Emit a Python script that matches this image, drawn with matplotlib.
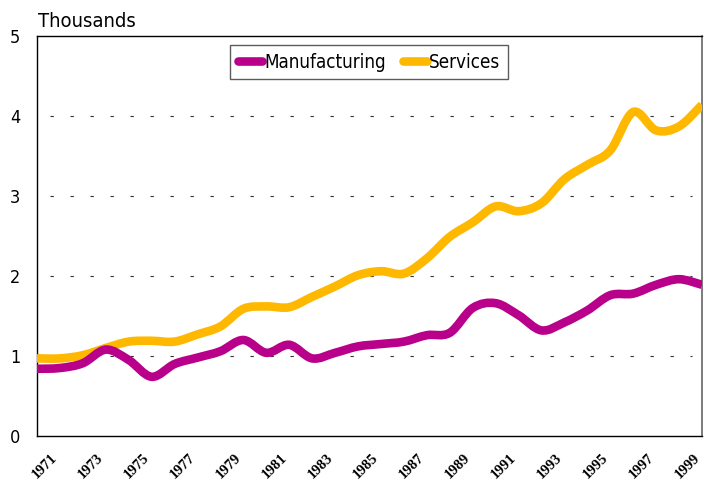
import numpy as np
import matplotlib
matplotlib.use("Agg")
import matplotlib.pyplot as plt
from matplotlib import font_manager
from matplotlib.path import Path
from matplotlib.patches import PathPatch
from matplotlib.lines import Line2D

years = list(range(1970, 2000))
manufacturing = [0.84, 0.85, 0.91, 1.08, 0.95, 0.74, 0.90, 0.98, 1.06, 1.20,
                 1.04, 1.14, 0.97, 1.04, 1.12, 1.15, 1.18, 1.26, 1.29, 1.60,
                 1.66, 1.51, 1.32, 1.42, 1.57, 1.76, 1.78, 1.89, 1.96, 1.89]
services = [0.97, 0.97, 1.01, 1.10, 1.18, 1.19, 1.18, 1.27, 1.37, 1.59,
            1.62, 1.61, 1.74, 1.87, 2.01, 2.06, 2.03, 2.22, 2.49, 2.67,
            2.87, 2.81, 2.91, 3.21, 3.39, 3.57, 4.05, 3.82, 3.87, 4.14]
tick_years = list(range(1971, 2000, 2))

c_man = "#b8008a"
c_ser = "#ffb800"

# narrow sans like Arial Narrow, if there is one
names = {f.name for f in font_manager.fontManager.ttflist}
cond = [f for f in font_manager.fontManager.ttflist
        if f.name == "DejaVu Sans" and "ondensed" in f.fname]
if "Liberation Sans Narrow" in names:
    nfont = {"family": "Liberation Sans Narrow"}
elif cond:
    nfont = {"family": "DejaVu Sans", "stretch": "condensed"}
else:
    nfont = {"family": "Liberation Sans"}


def smooth_path(xs, ys):
    # Excel style smoothed line: Catmull-Rom segments as cubic Beziers
    p = np.column_stack([xs, ys]).astype(float)
    pp = np.vstack([p[0], p, p[-1]])
    verts = [p[0]]
    codes = [Path.MOVETO]
    for i in range(1, len(pp) - 2):
        c1 = pp[i] + (pp[i + 1] - pp[i - 1]) / 6
        c2 = pp[i + 1] - (pp[i + 2] - pp[i]) / 6
        verts += [c1, c2, pp[i + 1]]
        codes += [Path.CURVE4] * 3
    return Path(verts, codes)


fig = plt.figure(figsize=(7.04, 4.84), dpi=100)
ax = fig.add_axes([37 / 704, 1 - 436 / 484, 665 / 704, 400 / 484])

lw = 6.2
# services underneath, manufacturing on top
for vals, col in [(services, c_ser), (manufacturing, c_man)]:
    patch = PathPatch(smooth_path(years, vals), facecolor="none", edgecolor=col,
                      lw=lw, capstyle="butt", joinstyle="round", zorder=3)
    ax.add_patch(patch)

ax.set_xlim(1970, 1999)
ax.set_ylim(0, 5)
for yv in [1, 2, 3, 4]:
    ax.axhline(yv, xmin=0.02, xmax=0.985, color="#333333", lw=0.8,
               ls=(0, (3, 15)), zorder=1)

ax.set_yticks([0, 1, 2, 3, 4, 5])
ax.set_yticklabels(["0", "1", "2", "3", "4", "5"], fontsize=13, **nfont)
ax.tick_params(axis="y", length=0, pad=12)
ax.set_xticks(tick_years)
ax.set_xticklabels([str(y) for y in tick_years], rotation=45, ha="right", va="top",
                   family=["Liberation Serif", "DejaVu Serif"],
                   fontweight="bold", fontsize=10.5)
ax.tick_params(axis="x", length=0, pad=11)

for s in ["left", "top", "bottom"]:
    ax.spines[s].set_color("black")
    ax.spines[s].set_linewidth(1)
ax.spines["right"].set_color("#666666")
ax.spines["right"].set_linewidth(1.2)

fig.text(38 / 704, 1 - 27 / 484, "Thousands", fontsize=14.5, **nfont)

handles = [Line2D([], [], color=c_man, lw=lw, solid_capstyle="round"),
           Line2D([], [], color=c_ser, lw=lw, solid_capstyle="round")]
leg = ax.legend(handles, ["Manufacturing", "Services"], ncol=2, loc="upper center",
                bbox_to_anchor=(332 / 665, 1 - 9 / 400), frameon=True, fancybox=False,
                prop=dict(size=13.5, **nfont), handlelength=1.3,
                handletextpad=0.1, columnspacing=0.9, borderpad=0.4,
                borderaxespad=0)
leg.get_frame().set_edgecolor("#333333")
leg.get_frame().set_linewidth(1)

fig.savefig("out.png", dpi=100)
